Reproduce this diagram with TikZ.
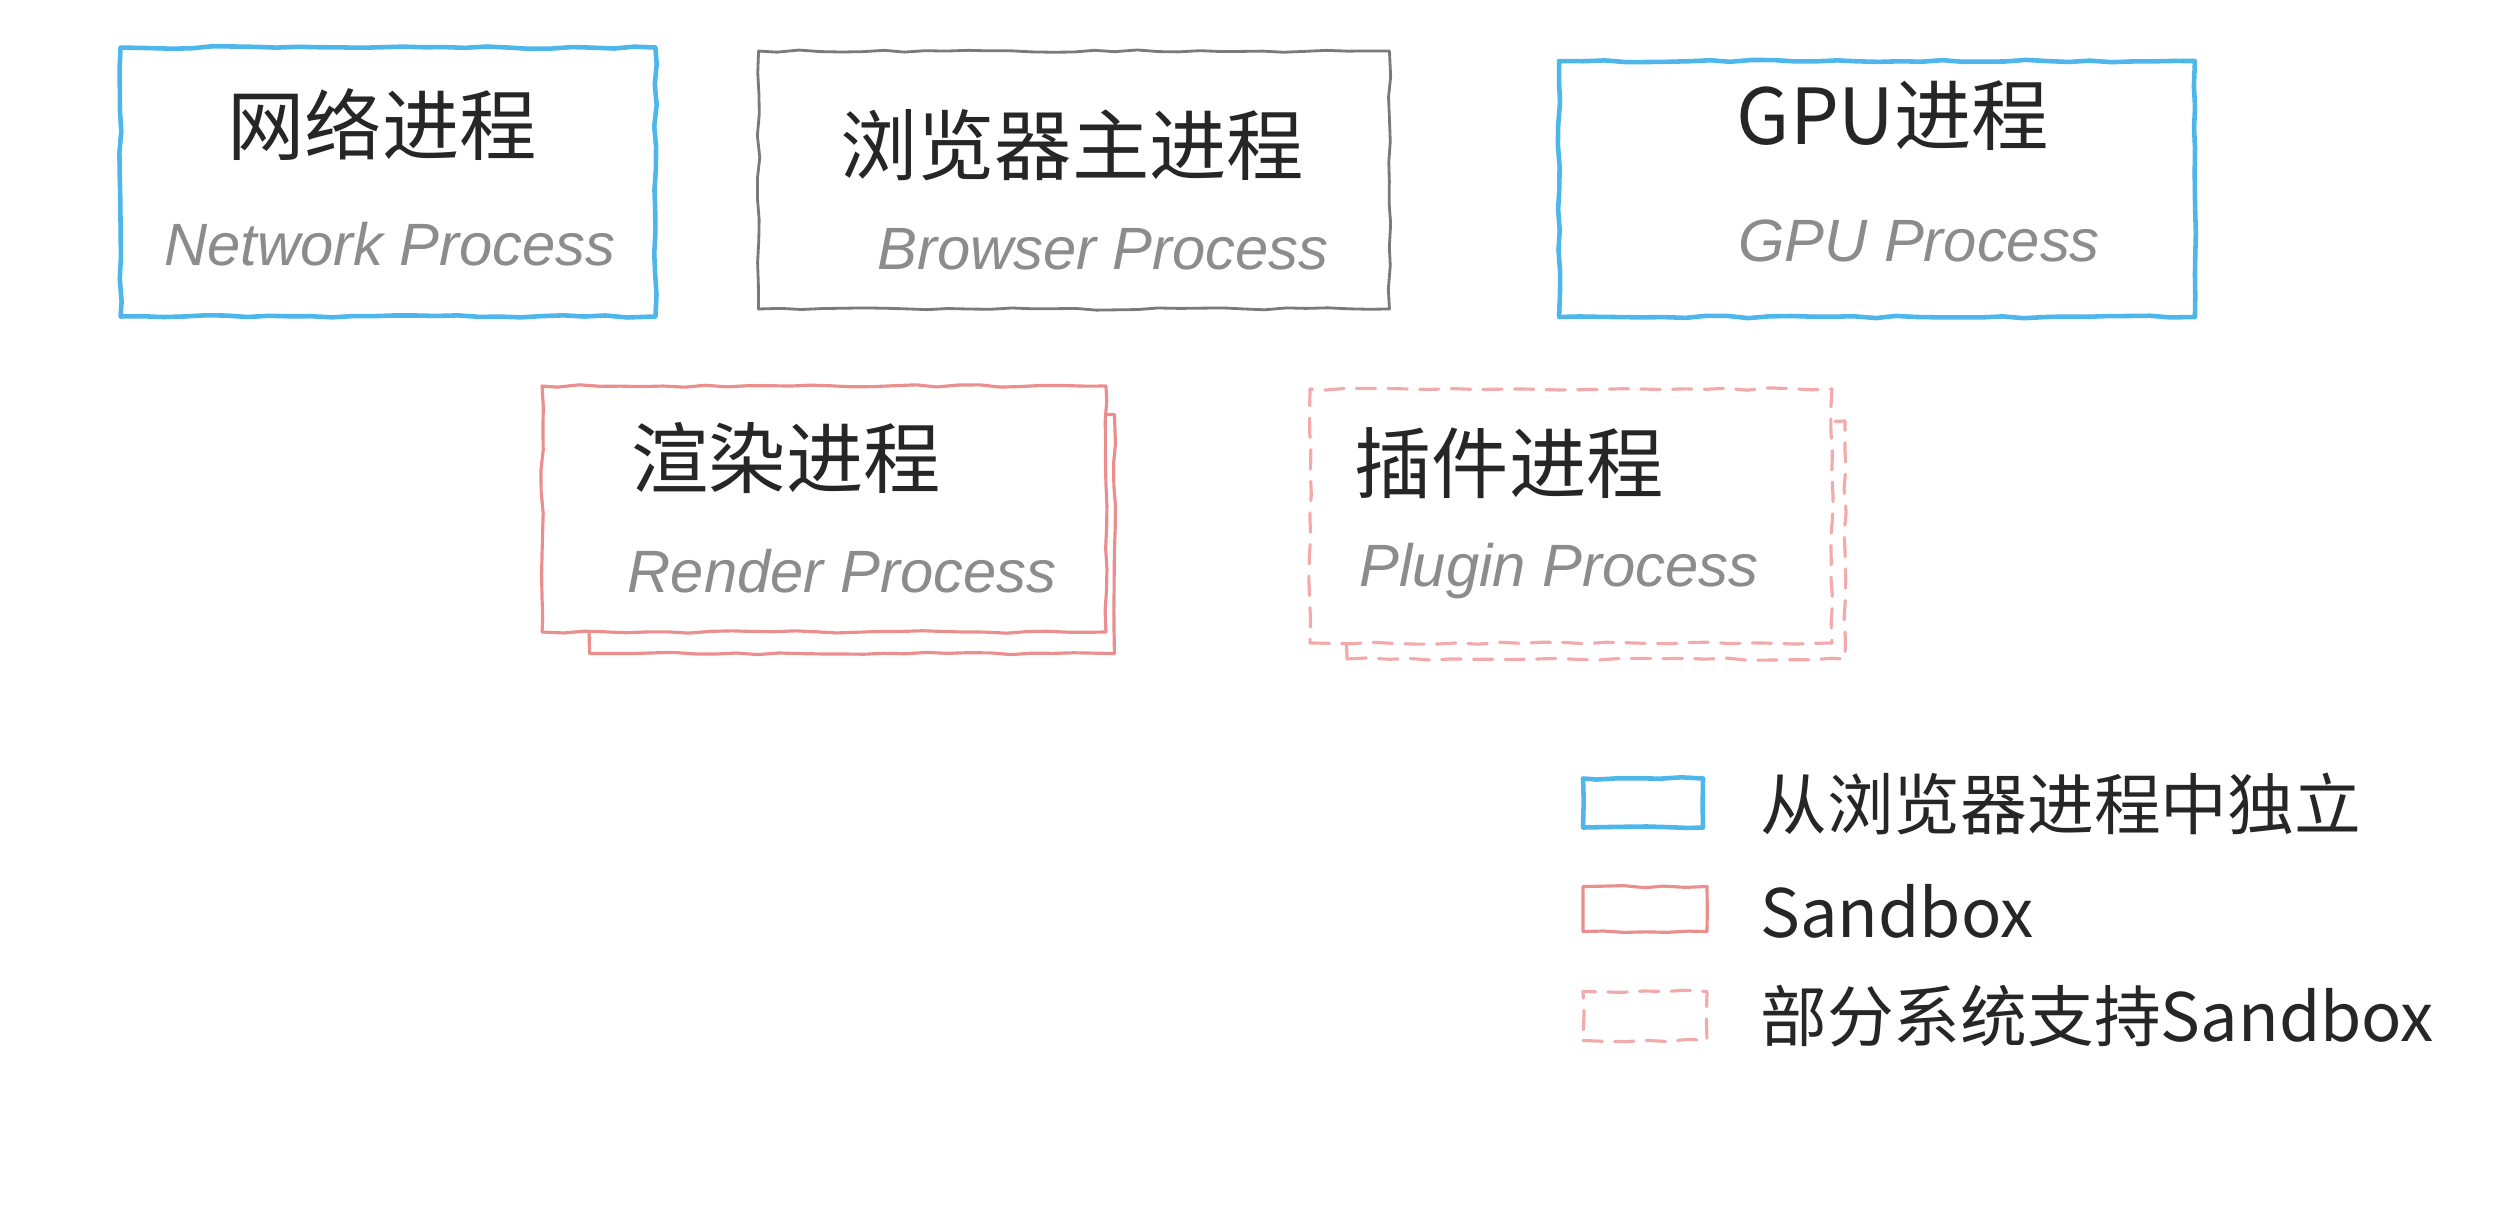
\documentclass[tikz,border=0pt]{standalone}
\usepackage{fontspec}
\newfontfamily\cjk{Noto Sans CJK SC}
\newfontfamily\eng{Liberation Sans}
\usetikzlibrary{decorations.pathmorphing}
\definecolor{skyb}{HTML}{4DB6EA}
\definecolor{boxgray}{HTML}{7A7A7A}
\definecolor{sbred}{HTML}{EB8E8E}
\definecolor{sbredl}{HTML}{F2AAAA}
\definecolor{txtgray}{HTML}{8C8C8C}
\begin{document}
\begin{tikzpicture}[x=0.02cm,y=-0.02cm,
  sketch/.style={draw, decorate, decoration={random steps,segment length=12pt,amplitude=0.7pt}, line join=round, line cap=round, inner sep=0pt},
  bluebox/.style={sketch, draw=skyb, line width=2.6pt},
  graybox/.style={sketch, draw=boxgray, line width=1.6pt},
  redbox/.style={sketch, draw=sbred, line width=1.8pt},
  dashbox/.style={sketch, draw=sbredl, line width=1.8pt, dash pattern=on 11pt off 7pt},
  zh/.style={font=\cjk\fontsize{44}{50}\selectfont, text=black!85, inner sep=0pt},
  en/.style={font=\eng\itshape\fontsize{34}{40}\selectfont, text=txtgray, inner sep=0pt},
  lg/.style={font=\cjk\fontsize{38}{44}\selectfont, text=black!85, inner sep=0pt, anchor=west}]
\pgfmathsetseed{7}
\useasboundingbox[fill=white] (0,0) rectangle (2520,1208);
% top row
\node[bluebox, minimum width=10.7cm, minimum height=5.38cm] (net) at (388,182) {};
\node[zh] (netzh) at (382,125) {网络进程};
\node[en] (neten) at (390,244) {Network Process};
\node[graybox, minimum width=12.62cm, minimum height=5.16cm] (bro) at (1074,180) {};
\node[zh] (brozh) at (1072,145) {浏览器主进程};
\node[en] (broen) at (1103,249) {Browser Process};
\node[bluebox, minimum width=12.72cm, minimum height=5.12cm] (gpu) at (1877,189) {};
\node[zh] (gpuzh) at (1893,116) {GPU进程};
\node[en] (gpuen) at (1919,241) {GPU Process};
% second row
\node[redbox, minimum width=10.5cm, minimum height=4.78cm] (renb) at (852,534) {};
\node[redbox, fill=white, minimum width=11.28cm, minimum height=4.92cm] (ren) at (824,509) {};
\node[zh] (renzh) at (786,458) {渲染进程};
\node[en] (renen) at (842,571) {Render Process};
\node[dashbox, minimum width=9.96cm, minimum height=4.76cm] (plgb) at (1596,540) {};
\node[dashbox, fill=white, minimum width=10.44cm, minimum height=5.08cm] (plg) at (1571,516) {};
\node[zh] (plgzh) at (1509,463) {插件进程};
\node[en] (plgen) at (1559,571) {Plugin Process};
% legend
\node[bluebox, minimum width=2.4cm, minimum height=0.98cm] (lgb) at (1643,803) {};
\node[lg] (lgbt) at (1760,804) {从浏览器进程中独立};
\node[redbox, minimum width=2.48cm, minimum height=0.9cm] (lgr) at (1645,909) {};
\node[lg] (lgrt) at (1760,911) {Sandbox};
\node[dashbox, minimum width=2.48cm, minimum height=0.98cm] (lgd) at (1645,1016) {};
\node[lg] (lgdt) at (1760,1016) {部分系统支持Sandbox};
\end{tikzpicture}
\end{document}
